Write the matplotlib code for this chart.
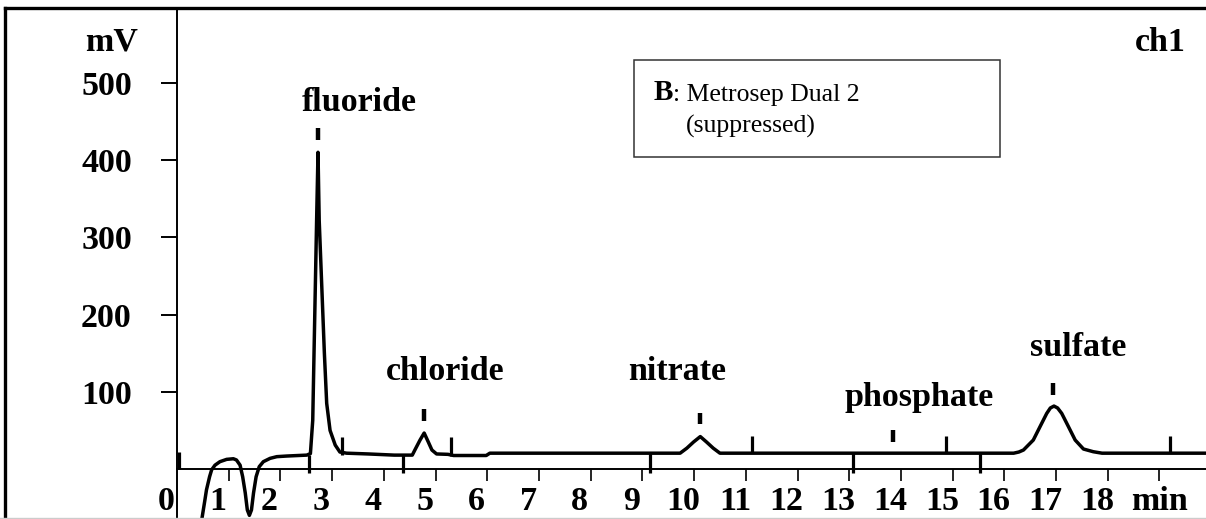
import matplotlib
matplotlib.use('Agg')
import matplotlib.pyplot as plt
from matplotlib.patches import Rectangle
from matplotlib.lines import Line2D

plt.rcParams['font.family'] = ['Liberation Serif', 'DejaVu Serif']

# chromatogram trace (time in min, signal in mV)
time_min = [0.42, 0.48, 0.54, 0.57, 0.63, 0.67, 0.735, 0.83, 0.96, 1.09, 1.15, 1.22,
            1.27, 1.32, 1.36, 1.40, 1.44, 1.48, 1.53, 1.59, 1.67, 1.80, 1.93, 2.12,
            2.51, 2.58, 2.625, 2.65, 2.675, 2.70, 2.727, 2.75, 2.80, 2.85, 2.895, 2.96,
            3.06, 3.15, 3.28, 3.70, 4.20, 4.55, 4.60, 4.70, 4.78, 4.86, 4.93, 5.02,
            5.24, 5.35, 5.98, 6.05, 9.73, 9.86, 9.99, 10.12, 10.24, 10.37, 10.50,
            16.18, 16.28, 16.37, 16.56, 16.69, 16.82, 16.89, 16.96, 17.03, 17.11,
            17.24, 17.37, 17.53, 17.72, 17.89, 20.0]
signal_mv = [-100, -65, -40, -27, -10, -1, 5, 9.5, 12.5, 13.3, 11.7, 5,
             -10, -31, -53, -60, -53, -31, -10, 3, 9.5, 13.8, 16, 16.8,
             18, 20, 63, 150, 236, 322, 410, 322, 236, 150, 85, 50,
             31, 22, 20.5, 19.5, 18, 18, 24.6, 37.5, 46.6, 35, 24.6, 19.5,
             19, 17.5, 17.5, 20.5, 20.5, 27, 35, 42, 35, 27, 20.5,
             20.5, 22, 24.6, 37.5, 54.8, 72, 79, 81.5, 79, 72,
             54.8, 37.5, 25.9, 22.4, 20.5, 20.5]

# integration marks on the trace
marks_up = [0.04, 3.19, 5.29, 11.12, 14.87, 19.21]
marks_up_lo = [0, 18, 17, 20.5, 20.5, 20.5]
marks_up_hi = [22, 41, 41, 43, 43, 43]
marks_down = [2.56, 4.37, 9.15, 13.08, 15.53]
marks_down_hi = [18, 18, 20.5, 20.5, 20.5]
marks_down_lo = [-5, -5, -5, -5, -5]

# peak names, retention marks and label spots
peak_names = ['fluoride', 'chloride', 'nitrate', 'phosphate', 'sulfate']
peak_rt = [2.73, 4.78, 10.12, 13.85, 16.94]
peak_mark_lo = [426, 62, 58, 35, 96]
peak_mark_hi = [441, 78, 73, 50, 111]
label_x = [3.52, 5.18, 9.67, 14.35, 17.43]
label_y = [475, 126, 126, 93, 157]

yticks = [100, 200, 300, 400, 500]
xticks = list(range(1, 20))
xlabel_pos = list(range(0, 20))
xlabel_txt = [str(i) for i in range(0, 19)] + ['min']

W, H = 1206, 519
fig = plt.figure(figsize=(W / 100, H / 100), dpi=100)
ax = fig.add_axes([177 / W, 0, 1 - 177 / W, (H - 8) / H])
ax.set_xlim(0, 19.9)
ax.set_ylim(-64.7, 596.8)

for s in ['top', 'right']:
    ax.spines[s].set_visible(False)
ax.spines['left'].set_linewidth(1.4)
ax.spines['bottom'].set_position(('data', 0))
ax.spines['bottom'].set_linewidth(1.4)

ax.plot(time_min, signal_mv, color='black', lw=2.5, solid_joinstyle='round')
ax.vlines(marks_up, marks_up_lo, marks_up_hi, color='black', lw=2.3)
ax.vlines(marks_down, marks_down_lo, marks_down_hi, color='black', lw=2.3)
ax.vlines(peak_rt, peak_mark_lo, peak_mark_hi, color='black', lw=3.2)

bold = dict(fontsize=24.5, fontweight='bold')
for name, x, y in zip(peak_names, label_x, label_y):
    ax.text(x, y, name, ha='center', va='center', **bold)

ax.set_yticks(yticks)
ax.set_yticklabels([str(v) for v in yticks], **bold)
ax.tick_params(axis='y', direction='out', length=11.5, width=1.4, pad=21)
ax.set_xticks(xticks)
ax.tick_params(axis='x', direction='out', length=8.6, width=1.2, labelbottom=False)
for x, t in zip(xlabel_pos, xlabel_txt):
    xx = x if t == 'min' else x - 0.21
    ax.text(xx, -42, t, ha='center', va='center', **bold)

ax.text(-1.26, 553, 'mV', ha='center', va='center', **bold)
ax.text(19.01, 552, 'ch1', ha='center', va='center', **bold)

ax.add_patch(Rectangle((8.84, 403.9), 7.08, 125.5, fill=False, lw=1.1, edgecolor='#333333'))
b = ax.text(9.21, 470, 'B', ha='left', va='bottom', fontsize=21, fontweight='bold')
ax.annotate(': Metrosep Dual 2', xy=(1, 0), xycoords=b, ha='left', va='bottom', fontsize=18.5)
ax.text(9.85, 444, '(suppressed)', ha='left', va='center', fontsize=18.5)

# outer frame of the figure
top = (H - 7.7) / H
fig.add_artist(Line2D([5 / W, 5 / W], [0, top], color='black', lw=2.4))
fig.add_artist(Line2D([5 / W, 1], [top, top], color='black', lw=2.4))
fig.add_artist(Line2D([0, 1], [1 / H, 1 / H], color='#cccccc', lw=1))

fig.savefig('out.png', dpi=100)
